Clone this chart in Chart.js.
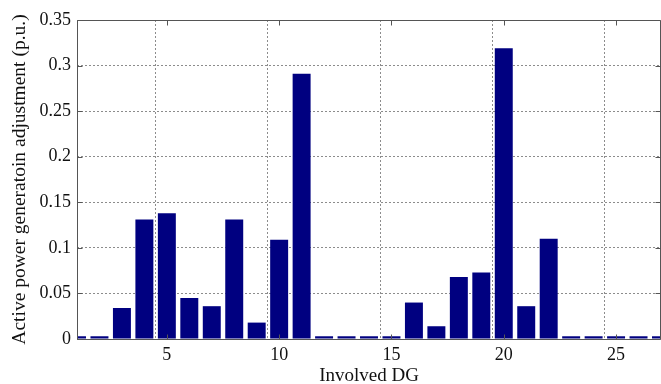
<!DOCTYPE html>
<html>
<head>
<meta charset="utf-8">
<script src="https://cdn.jsdelivr.net/npm/chart.js@4/dist/chart.umd.min.js"></script>
<style>
  html, body { margin: 0; padding: 0; background: #fff; overflow: hidden; }
  canvas { display: block; }
</style>
</head>
<body>
<canvas id="c" width="666" height="384" style="width:666px;height:384px"></canvas>
<script>
// ---- data ----
const categories = [1,2,3,4,5,6,7,8,9,10,11,12,13,14,15,16,17,18,19,20,21,22,23,24,25,26,27];
const adjustment = [0.003,0.003,0.034,0.131,0.138,0.045,0.036,0.131,0.018,0.109,0.291,
                    0.003,0.003,0.003,0.003,0.040,0.014,0.068,0.073,0.319,0.036,0.110,
                    0.003,0.003,0.003,0.003,0.003];
const xTickLabels = [5,10,15,20,25];
const yTicks = [0,0.05,0.1,0.15,0.2,0.25,0.3,0.35];
const xTitle = 'Involved DG';
const yTitle = 'Active power generatoin adjustment (p.u.)';

const FONT = '"Liberation Serif", "Times New Roman", serif';
const GRID = '#8c8c8c';
const AXIS = '#555555';

const framePlugin = {
  id: 'frame',
  afterDatasetsDraw(chart) {
    const {ctx, chartArea: a, scales} = chart;
    ctx.save();
    ctx.strokeStyle = AXIS;
    ctx.lineWidth = 1;
    const L = Math.round(a.left) + 0.5, T = Math.round(a.top) + 0.5;
    const R = Math.round(a.right) - 0.5, B = Math.round(a.bottom) + 0.5;
    ctx.beginPath();
    ctx.moveTo(L, T); ctx.lineTo(R, T); ctx.lineTo(R, B); ctx.lineTo(L, B); ctx.closePath();
    ctx.stroke();
    // inward tick marks (MATLAB style)
    const tl = 5;
    ctx.beginPath();
    categories.forEach((c, i) => {
      if (!xTickLabels.includes(c)) return;
      const x = Math.round(scales.x.getPixelForValue(i)) + 0.5;
      ctx.moveTo(x, B); ctx.lineTo(x, B - tl);
      ctx.moveTo(x, T); ctx.lineTo(x, T + tl);
    });
    yTicks.forEach(v => {
      const y = Math.round(scales.y.getPixelForValue(v)) + 0.5;
      ctx.moveTo(L, y); ctx.lineTo(L + tl, y);
      ctx.moveTo(R, y); ctx.lineTo(R - tl, y);
    });
    ctx.stroke();
    ctx.restore();
  }
};

new Chart(document.getElementById('c'), {
  type: 'bar',
  data: {
    labels: categories.map(String),
    datasets: [{
      data: adjustment,
      backgroundColor: '#000080',
      borderWidth: 0,
      barPercentage: 0.8,
      categoryPercentage: 1.0,
      clip: 0
    }]
  },
  options: {
    responsive: false,
    animation: false,
    events: [],
    devicePixelRatio: 1,
    layout: { padding: { top: 20, right: 0, left: 0, bottom: 0 } },
    plugins: { legend: { display: false }, tooltip: { enabled: false } },
    scales: {
      x: {
        type: 'category',
        offset: false,
        grid: {
          drawTicks: false,
          color: ctx => (ctx.tick && xTickLabels.includes(categories[ctx.index])) ? GRID : 'rgba(0,0,0,0)',
          lineWidth: 1
        },
        border: { display: false, dash: [2, 2] },
        ticks: {
          autoSkip: false,
          maxRotation: 0,
          padding: 5,
          color: '#111',
          font: { family: FONT, size: 18 },
          callback: (v, i) => xTickLabels.includes(categories[i]) ? String(categories[i]) : ''
        },
        title: {
          display: true,
          text: xTitle,
          color: '#111',
          font: { family: FONT, size: 19 },
          padding: { top: 0, bottom: -3 }
        },
        afterFit: s => { s.height = 45; }
      },
      y: {
        min: 0,
        max: 0.35,
        grid: { drawTicks: false, color: GRID, lineWidth: 1 },
        border: { display: false, dash: [2, 2] },
        afterBuildTicks: s => { s.ticks = yTicks.map(v => ({ value: v })); },
        ticks: {
          padding: 6,
          color: '#111',
          font: { family: FONT, size: 18 },
          callback: v => String(+(+v).toFixed(2))
        },
        title: {
          display: true,
          text: yTitle,
          color: '#111',
          font: { family: FONT, size: 19.5 },
          padding: { top: 8, bottom: 0 }
        },
        afterFit: s => { s.width = 77; }
      }
    }
  },
  plugins: [framePlugin]
});
</script>
</body>
</html>
